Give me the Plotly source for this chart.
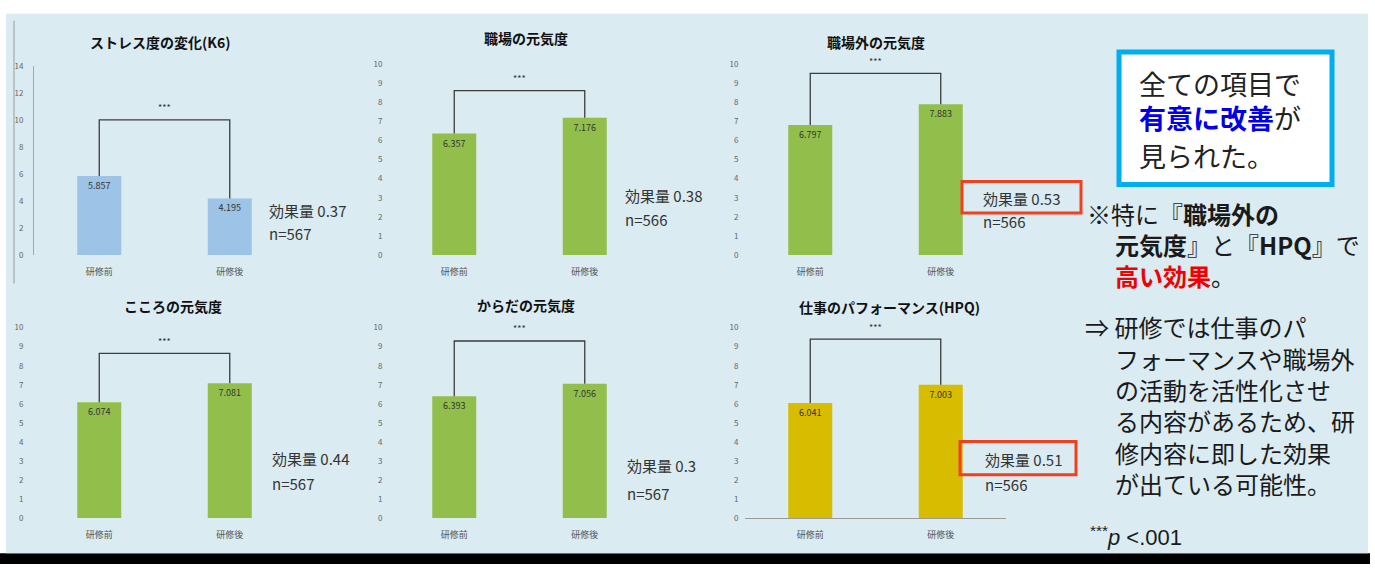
import plotly.graph_objects as go

# ---- data -------------------------------------------------------------
categories = ["研修前", "研修後"]
titles = [
    "ストレス度の変化(K6)",
    "職場の元気度",
    "職場外の元気度",
    "こころの元気度",
    "からだの元気度",
    "仕事のパフォーマンス(HPQ)",
]
before = [5.857, 6.357, 6.797, 6.074, 6.393, 6.041]
after = [4.195, 7.176, 7.883, 7.081, 7.056, 7.003]
effect_sizes = ["0.37", "0.38", "0.53", "0.44", "0.3", "0.51"]
sample_sizes = [567, 566, 566, 567, 567, 566]
highlighted = [False, False, True, False, False, True]

# ---- layout settings --------------------------------------------------
W, H = 1375, 569
FONT = "Noto Sans CJK JP"
BG = "#DAEBF2"
bar_colors = ["#9DC3E6", "#92BF4C", "#92BF4C", "#92BF4C", "#92BF4C", "#D8BC00"]
# pixel geometry of each panel: plot-area left/right, top/bottom, y max, tick step
geom = [
    dict(x0=34, x1=295, yt=61, yb=254, ymax=14, dtick=2),
    dict(x0=389, x1=650, yt=59, yb=254, ymax=10, dtick=1),
    dict(x0=745, x1=1006, yt=59, yb=254, ymax=10, dtick=1),
    dict(x0=34, x1=295, yt=328, yb=522, ymax=10, dtick=1),
    dict(x0=389, x1=650, yt=328, yb=522, ymax=10, dtick=1),
    dict(x0=745, x1=1006, yt=328, yb=522, ymax=10, dtick=1),
]
bracket_levels = [10, 8.6, 9.5, 8.65, 9.3, 9.4]
title_pos = [(160, 37), (526, 33), (876, 37), (173, 306), (526, 305), (890, 307)]
effect_pos = [(267, 209, 232), (623, 193, 218), (981, 196, 220),
              (270, 461, 487), (625, 469, 497), (983, 462, 488)]
red_boxes = {2: (962, 179, 1081, 211), 5: (960, 444, 1076, 478)}


def px(x):
    return x / W


def py(y):
    return 1 - y / H


fig = go.Figure()
layout = dict(
    width=W, height=H, margin=dict(l=0, r=0, t=0, b=0),
    paper_bgcolor="white", plot_bgcolor="rgba(0,0,0,0)",
    font=dict(family=FONT, color="#333"),
    showlegend=False,
)
annotations = []
shapes = []

# backdrop panel and bottom shadow strip
shapes.append(dict(type="rect", xref="paper", yref="paper", x0=px(0), x1=px(1370),
                   y0=py(569), y1=py(558), fillcolor="black", line=dict(width=0), layer="below"))
shapes.append(dict(type="rect", xref="paper", yref="paper", x0=px(6), x1=px(1368),
                   y0=py(558), y1=py(8), fillcolor=BG, line=dict(width=0), layer="below"))
shapes.append(dict(type="line", xref="paper", yref="paper", x0=px(14), x1=px(14),
                   y0=py(283), y1=py(15), line=dict(color="#9a9a9a", width=1)))

for i in range(6):
    g = geom[i]
    sfx = "" if i == 0 else str(i + 1)
    xname, yname = "x" + sfx, "y" + sfx
    bw = 44 / ((g["x1"] - g["x0"]) / 2)

    fig.add_trace(go.Bar(
        x=categories, y=[before[i], after[i]],
        xaxis=xname, yaxis=yname, width=bw,
        marker=dict(color=bar_colors[i], line=dict(width=0)),
        text=[f"{before[i]:.3f}", f"{after[i]:.3f}"],
        textposition="inside", insidetextanchor="end",
        textfont=dict(size=9, color="#333", family=FONT),
        hoverinfo="skip",
    ))
    h = bracket_levels[i]
    fig.add_trace(go.Scatter(
        x=[categories[0], categories[0], categories[1], categories[1]],
        y=[before[i], h, h, after[i]],
        xaxis=xname, yaxis=yname, mode="lines",
        line=dict(color="#3c3c3c", width=1.3), hoverinfo="skip",
    ))
    annotations.append(dict(xref=xname, yref=yname, x=0.5, y=h, text="***",
                            showarrow=False, yanchor="middle", yshift=12,
                            font=dict(size=9, color="#333")))

    layout["xaxis" + sfx] = dict(
        domain=[px(g["x0"]), px(g["x1"])], anchor=yname, range=[-0.5, 1.5],
        type="category", showgrid=False, zeroline=False,
        showline=(i == 5), linecolor="#9a9a9a", linewidth=1,
        ticks="outside", ticklen=8, tickcolor="rgba(0,0,0,0)",
        tickfont=dict(size=9, color="#555", family=FONT),
    )
    layout["yaxis" + sfx] = dict(
        domain=[py(g["yb"]), py(g["yt"])], anchor=xname, range=[0, g["ymax"]],
        dtick=g["dtick"], tick0=0, showgrid=False, zeroline=False,
        showline=(i == 0), linecolor="#a8a8a8", linewidth=1,
        ticks="outside", ticklen=8 if i in (0, 3) else 4, tickcolor="rgba(0,0,0,0)",
        tickfont=dict(size=8, color="#666", family=FONT),
    )

    tx, ty = title_pos[i]
    annotations.append(dict(xref="paper", yref="paper", x=px(tx), y=py(ty),
                            text=f"<b>{titles[i]}</b>", showarrow=False,
                            xanchor="center", yanchor="middle",
                            font=dict(size=14, color="#111")))
    ex, ey, ny = effect_pos[i]
    annotations.append(dict(xref="paper", yref="paper", x=px(ex), y=py(ey),
                            text=f"効果量 {effect_sizes[i]}", showarrow=False,
                            xanchor="left", yanchor="middle",
                            font=dict(size=15, color="#333")))
    annotations.append(dict(xref="paper", yref="paper", x=px(ex), y=py(ny),
                            text=f"n={sample_sizes[i]}", showarrow=False,
                            xanchor="left", yanchor="middle",
                            font=dict(size=15, color="#333")))
    if highlighted[i]:
        x0, y0, x1, y1 = red_boxes[i]
        shapes.append(dict(type="rect", xref="paper", yref="paper",
                           x0=px(x0), x1=px(x1), y0=py(y1), y1=py(y0),
                           line=dict(color="#F0401E", width=3)))

# summary box on the right
shapes.append(dict(type="rect", xref="paper", yref="paper", x0=px(1119), x1=px(1332),
                   y0=py(182), y1=py(47), fillcolor="white",
                   line=dict(color="#00AEEF", width=5)))
box_lines = [
    (79, "全ての項目で"),
    (114, "<b><span style='color:#0000E6'>有意に改善</span></b>が"),
    (152, "見られた。"),
]
for y, t in box_lines:
    annotations.append(dict(xref="paper", yref="paper", x=px(1137), y=py(y), text=t,
                            showarrow=False, xanchor="left", yanchor="middle",
                            font=dict(size=27, color="#222")))

note_lines = [
    (1085, 212, "※特に『<b>職場外の</b>"),
    (1113, 243, "<b>元気度</b>』と『<b>HPQ</b>』で"),
    (1113, 275, "<b><span style='color:#F00000'>高い効果</span></b>。"),
    (1083, 327, "⇒ 研修では仕事のパ"),
    (1113, 359, "フォーマンスや職場外"),
    (1113, 391, "の活動を活性化させ"),
    (1113, 423, "る内容があるため、研"),
    (1113, 455, "修内容に即した効果"),
    (1113, 487, "が出ている可能性。"),
]
for x, y, t in note_lines:
    annotations.append(dict(xref="paper", yref="paper", x=px(x), y=py(y), text=t,
                            showarrow=False, xanchor="left", yanchor="middle",
                            font=dict(size=24, color="#1a1a1a")))
annotations.append(dict(xref="paper", yref="paper", x=px(1088), y=py(540),
                        text="<sup>***</sup><i>p</i> <.001", showarrow=False,
                        xanchor="left", yanchor="middle",
                        font=dict(size=22, color="#1a1a1a", family="Liberation Sans")))

layout["annotations"] = annotations
layout["shapes"] = shapes
fig.update_layout(**layout)
fig.write_html("out.html")
